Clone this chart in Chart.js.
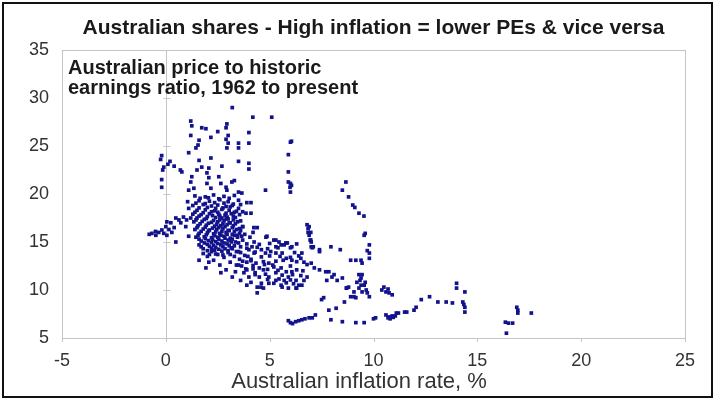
<!DOCTYPE html>
<html>
<head>
<meta charset="utf-8">
<script src="https://cdn.jsdelivr.net/npm/chart.js@4.4.1/dist/chart.umd.min.js"></script>
<style>
  html, body { margin: 0; padding: 0; background: #fff; }
  #wrap { position: relative; width: 715px; height: 400px; }
  #frame { position: absolute; left: 2px; top: 2px; width: 707px; height: 392px; border: 2px solid #111; pointer-events: none; }
</style>
</head>
<body>
<div id="wrap">
  <canvas id="peChart" width="715" height="400"></canvas>
  <div id="frame"></div>
</div>
<script>
// Inflation (%) and price/earnings ratio
const inflation = [
  // around zero inflation
  -0.2, 0.2, -0.1, -0.15, 0.4, 0.77, 0.7, -0.2, -0.2, -0.25, 0.1,
  -0.67, -0.48, -0.34, -0.19, 0, 0.05, 0.24, 0.48, 0.63, 0.72, 0.48, 0.05, 0.29, 0.96, 1.0, -0.8, -0.1, 0.15, -0.5, 0.4, 0.85, 1.1,
  // upper scatter
  3.2, 4.19, 5.1, 1.2, 1.25, 1.73, 1.93, 2.94, 2.9, 2.5, 2.17, 1.2, 1.6, 3.0, 2.9, 3.0, 4.0, 4.0, 3.5, 3.5, 1.55, 1.45, 1.1, 2.94,
  1.6, 2.17, 1.73, 1.5, 1.25, 2.07, 1.98, 2.07, 2.7, 3.5, 4.0, 4.0, 2.55, 2.65, 1.2, 1.35, 1.1, 1.98, 2.17, 2.9, 2.94, 3.3, 3.5, 4.8, 4.1, 4.1,
  3.66, 3.18, 3.9, 3.86, 1.1, 1.05, 1.2,
  // column near 6%
  6.0, 6.05, 5.9, 5.9, 5.9, 6.0, 5.98, 6.0, 6.05,
  // falling line 8.5-10%
  8.67, 8.5, 8.8, 9.0, 9.1, 9.3, 9.54, 9.6, 9.55, 9.8, 9.7, 9.8, 9.8,
  8.9, 9.15, 9.4, 9.45, 9.3, 9.4, 9.45, 9.2, 9.4, 9.55, 9.3, 9.45, 9.65, 9.06, 8.9, 9.06, 9.7, 9.8, 8.8, 8.7, 9.15, 9.6, 9.35,
  10.5, 10.6, 10.75, 10.9, 10.4, 10.7,
  // column near 7%
  6.8, 6.85, 6.9, 6.95, 7.0, 7.05, 6.85, 7.0,
  7.4, 7.95, 8.4, 7.4, 7.85, 8.1, 8.5, 8.7, 7.0, 7.15, 7.4, 7.7, 8.0, 8.25, 7.75, 7.6, 7.5, 8.6,
  // low PE row
  6.0, 6.25, 6.55, 6.9, 7.2, 7.05, 5.9, 6.1, 6.4, 6.7, 7.85, 8.2, 7.95, 8.5, 9.15, 9.55, 10.0, 10.1,
  10.6, 10.75, 10.9, 11.1, 10.7, 10.8, 10.95, 11.05, 11.6, 11.2, 11.95, 12.05, 11.5,
  12.3, 12.7, 13.1, 13.5, 13.8, 14.0, 14.0, 14.4, 14.3, 14.4, 14.4, 14.35,
  16.35, 16.5, 16.7, 16.4, 16.9, 16.95, 16.95, 17.6,
  // band 3.5-7%
  4.4, 4.87, 5.2, 5.45, 5.55, 5.3, 5.85, 6.0, 4.25, 4.15, 4.0, 4.25, 4.6, 4.8, 5.05, 5.6, 5.8, 6.07, 6.55, 6.5, 6.65,
  4.34, 4.5, 4.7, 4.5, 4.6, 4.4, 4.7, 4.96, 5.2, 5.3, 4.96, 5.55, 5.8, 5.9, 5.7, 5.55, 6.07, 6.27, 6.4, 6.3, 6.65, 6.8, 6.55, 4.0, 4.1,
  3.9, 4.4, 4.58, 4.96, 5.3, 5.6, 5.9, 6.27, 3.76, 3.2, 2.65, 2.9, 1.93, 2.07, 1.6,
  3.6, 3.8, 3.7, 3.9, 3.6, 3.8, 3.55, 3.9, 3.65, 4.1, 3.45, 3.5, 4.2, 3.7, 4.05, 3.85, 3.4, 3.3, 3.2, 3.1, 2.8, 2.5, 2.3, 2.6, 3.35, 3.0, 2.2, 1.8, 2.0, 4.3, 3.6, 4.2,
  4.24, 4.82, 5.3, 5.78, 6.07, 6.9, 6.98, 6.98, 7.1,
  4.5, 5.0, 5.7, 6.3,
  3.9, 4.4, 4.9, 5.4,
  3.6, 4.3, 5.3, 6.2,
  3.95, 4.6, 5.0, 5.5, 6.0, 6.4,
  3.7, 4.1, 4.7, 5.3, 5.65, 6.3,
  3.5, 4.2, 4.75, 5.15, 6.0, 6.8,
  3.9, 4.9, 5.4, 6.3, 6.6,
  4.3, 4.8, 5.6, 6.1, 6.5,
  4.9, 5.45, 6.0,
  5.2, 5.8, 6.15,
  // dense core 1.3-3.7%
  1.4, 1.9, 2.3, 2.8, 3.3,
  1.6, 2.1, 2.6, 3.0, 3.5,
  1.3, 1.8, 2.2, 2.5, 2.9, 3.2, 3.6,
  1.5, 1.9, 2.35, 2.7, 3.05, 3.4,
  1.3, 1.7, 2.1, 2.55, 2.85, 3.15, 3.55,
  1.5, 1.95, 2.4, 2.7, 3.0, 3.35,
  1.35, 1.75, 2.2, 2.5, 2.8, 3.1, 3.45,
  1.55, 1.95, 2.35, 2.65, 2.95, 3.25, 3.7,
  1.4, 1.8, 2.1, 2.45, 2.75, 3.05, 3.4,
  1.6, 2.0, 2.3, 2.6, 2.9, 3.2, 3.55,
  1.45, 1.85, 2.2, 2.5, 2.8, 3.1, 3.45,
  1.7, 2.05, 2.4, 2.7, 3.0, 3.35,
  1.6, 2.0, 2.3, 2.65, 2.95, 3.3,
  1.8, 2.2, 2.55, 2.85, 3.15,
  1.65, 2.05, 2.55, 3.05,
  1.45, 1.9, 2.35, 2.8, 3.25,
  1.6, 2.0, 2.4, 2.75, 3.1, 3.5,
  1.4, 1.8, 2.2, 2.5, 2.9, 3.3, 3.7,
  1.6, 2.0, 2.25, 2.6, 2.95, 3.25,
  1.45, 1.85, 2.3, 2.6, 2.9, 3.25, 3.6,
  1.65, 2.05, 2.45, 2.75, 3.05, 3.35,
  1.5, 1.9, 2.25, 2.55, 2.85, 3.2, 3.55,
  1.7, 2.05, 2.4, 2.7, 3.0, 3.3,
  1.55, 1.95, 2.35, 2.65, 2.95, 3.3, 3.65,
  1.6, 1.9, 2.25, 2.55, 2.85, 3.2,
  1.85, 2.2, 2.5, 2.8, 3.15, 3.5,
  1.7, 2.1, 2.4, 2.75, 3.05,
  2.0, 2.35, 2.7, 3.0, 3.4,
  2.1, 2.4, 2.75, 3.1
];

const peRatio = [
  24.0, 23.4, 22.8, 22.5, 22.9, 22.3, 22.5, 21.5, 20.7, 23.6, 23.1,
  15.9, 15.7, 16.0, 16.25, 16.6, 17.1, 17.0, 17.5, 17.3, 17.0, 15.0, 15.7, 16.0, 16.6, 17.3, 15.8, 15.9, 16.3, 16.1, 16.5, 17.6, 15.6,
  29.0, 28.0, 28.0, 27.6, 27.1, 26.9, 26.8, 27.3, 26.9, 26.5, 25.9, 26.1, 25.6, 26.1, 25.7, 25.3, 26.4, 25.3, 25.3, 24.8, 25.1, 24.8, 24.3, 24.8,
  23.5, 23.75, 22.8, 22.5, 21.8, 22.7, 22.2, 21.7, 22.9, 23.4, 23.2, 22.6, 21.8, 21.1, 21.25, 20.6, 20.4, 21.1, 20.6, 20.7, 20.4, 21.4, 20.2, 20.4, 19.1, 18.0,
  20.1, 21.25, 19.1, 18.0, 18.5, 19.2, 17.5,
  25.4, 25.5, 24.1, 22.3, 21.25, 21.1, 20.7, 20.2, 20.9,
  21.25, 20.4, 19.7, 18.85, 18.6, 18.0, 17.7, 15.9, 15.7, 14.7, 14.1, 13.85, 13.3,
  13.1, 13.1, 13.1, 12.8, 11.6, 11.25, 11.6, 10.8, 10.5, 10.5, 10.2, 9.8, 10.0, 9.8, 9.3, 9.3, 9.7, 9.3, 10.3, 10.2, 9.2, 10.8, 11.0,
  10.3, 9.8, 9.7, 9.5, 10.0, 10.1,
  16.8, 16.0, 15.7, 15.2, 14.5, 14.4, 16.4, 15.0,
  14.2, 14.5, 14.2, 14.0, 11.9, 11.6, 11.25, 10.2, 12.8, 12.3, 12.1, 11.9, 11.35, 11.0, 11.0, 9.2, 9.0, 8.75,
  6.6, 6.7, 6.9, 7.1, 7.4, 7.1, 6.8, 6.5, 6.8, 7.0, 7.9, 8.1, 6.9, 6.7, 6.6, 6.6, 7.0, 7.1,
  7.4, 7.2, 7.3, 7.6, 7.1, 7.0, 7.15, 7.3, 7.7, 7.6, 7.9, 8.2, 7.7,
  9.0, 9.3, 8.75, 8.75, 8.65, 10.7, 10.2, 9.8, 8.75, 8.2, 7.7, 8.5,
  6.65, 6.55, 6.55, 5.5, 8.2, 7.9, 7.6, 7.6,
  16.5, 15.6, 15.2, 15.0, 14.7, 14.5, 14.9, 14.4, 15.0, 14.5, 14.2, 13.85, 14.2, 13.85, 14.0, 13.85, 13.3, 13.1, 13.85, 13.3, 12.9,
  12.8, 12.3, 12.1, 11.35, 10.7, 10.3, 10.2, 12.8, 12.4, 11.8, 11.35, 12.3, 11.9, 11.35, 11.0, 10.5, 11.9, 11.0, 10.5, 10.2, 11.0, 11.35, 10.5, 11.35, 10.8,
  10.5, 9.7, 10.3, 10.7, 11.0, 10.3, 10.2, 10.2, 11.8, 11.35, 11.8, 12.1, 12.3, 12.9, 13.1,
  16.2, 15.8, 15.2, 14.8, 14.5, 13.6, 13.2, 12.9, 12.5, 13.2, 15.7, 14.0, 16.0, 16.6, 15.5, 12.2, 12.6, 13.5, 14.3, 12.9, 13.4, 13.7, 13.1, 12.6, 11.9, 13.9, 14.0, 13.8, 13.5, 11.8, 11.0, 12.2,
  16.5, 15.5, 15.2, 14.9, 14.5, 16.6, 16.0, 15.2, 14.5,
  14.75, 14.85, 14.7, 14.8,
  14.35, 14.45, 14.3, 14.4,
  13.9, 13.95, 13.85, 13.9,
  13.5, 13.45, 13.55, 13.5, 13.4, 13.55,
  13.0, 13.05, 12.95, 13.0, 13.1, 12.95,
  12.6, 12.55, 12.65, 12.6, 12.5, 12.65,
  12.1, 12.15, 12.05, 12.1, 12.0,
  11.6, 11.65, 11.55, 11.6, 11.5,
  11.1, 11.15, 11.05,
  10.7, 10.75, 10.65,
  19.8, 19.7, 19.9, 19.75, 19.85,
  19.3, 19.25, 19.4, 19.2, 19.35,
  18.8, 18.9, 18.75, 18.85, 18.7, 18.8, 18.9,
  18.3, 18.35, 18.25, 18.4, 18.3, 18.2,
  17.9, 17.85, 17.95, 17.9, 17.8, 17.95, 17.85,
  17.5, 17.45, 17.55, 17.5, 17.4, 17.55,
  17.1, 17.15, 17.05, 17.1, 17.2, 17.0, 17.1,
  16.7, 16.75, 16.65, 16.7, 16.8, 16.7, 16.6,
  16.3, 16.35, 16.25, 16.3, 16.4, 16.2, 16.3,
  15.9, 15.95, 15.85, 15.9, 16.0, 15.8, 15.9,
  15.5, 15.55, 15.45, 15.5, 15.6, 15.4, 15.5,
  15.1, 15.15, 15.05, 15.1, 15.2, 15.0,
  14.7, 14.75, 14.65, 14.7, 14.8, 14.6,
  14.3, 14.35, 14.25, 14.3, 14.4,
  19.55, 19.6, 19.5, 19.55,
  19.05, 19.0, 19.1, 19.05, 18.95,
  18.55, 18.6, 18.5, 18.55, 18.65, 18.5,
  18.1, 18.05, 18.15, 18.1, 18.0, 18.1, 18.15,
  17.7, 17.65, 17.75, 17.7, 17.6, 17.7,
  17.3, 17.35, 17.25, 17.3, 17.4, 17.3, 17.2,
  16.9, 16.95, 16.85, 16.9, 17.0, 16.9,
  16.5, 16.55, 16.45, 16.5, 16.6, 16.5, 16.4,
  16.1, 16.15, 16.05, 16.1, 16.2, 16.1,
  15.7, 15.75, 15.65, 15.7, 15.8, 15.7, 15.6,
  15.3, 15.35, 15.25, 15.3, 15.4, 15.3,
  14.9, 14.95, 14.85, 14.9, 15.0, 14.9,
  14.5, 14.55, 14.45, 14.5, 14.6,
  14.1, 14.15, 14.05, 14.1, 14.0,
  13.7, 13.75, 13.65, 13.7
];

const xTicks = [-5, 0, 5, 10, 15, 20, 25];
const yTicks = [5, 10, 15, 20, 25, 30, 35];

const points = inflation.map((x, i) => ({ x: x, y: peRatio[i] }));

const fontFamily = "Arial, 'Liberation Sans', sans-serif";

// plot frame, y-axis line at zero with cross ticks, the note and the x title
const decorations = {
  id: "decorations",
  beforeDatasetsDraw(chart) {
    const { ctx, chartArea: a, scales } = chart;
    ctx.save();
    ctx.strokeStyle = "#c4c4c4";
    ctx.lineWidth = 1;
    ctx.strokeRect(a.left + 0.5, a.top + 0.5, a.right - a.left, a.bottom - a.top);
    const x0 = Math.round(scales.x.getPixelForValue(0)) + 0.5;
    ctx.beginPath();
    ctx.moveTo(x0, a.top);
    ctx.lineTo(x0, a.bottom);
    yTicks.forEach((v) => {
      const py = Math.round(scales.y.getPixelForValue(v)) + 0.5;
      ctx.moveTo(x0 - 3, py);
      ctx.lineTo(x0 + 4, py);
    });
    xTicks.forEach((v) => {
      const px = Math.round(scales.x.getPixelForValue(v)) + 0.5;
      ctx.moveTo(px, a.bottom);
      ctx.lineTo(px, a.bottom + 4);
    });
    ctx.stroke();
    ctx.restore();
  },
  afterDraw(chart) {
    const { ctx, chartArea: a } = chart;
    ctx.save();
    ctx.fillStyle = "#1a1a1a";
    ctx.font = "bold 20px " + fontFamily;
    ctx.textBaseline = "middle";
    ctx.fillText("Australian price to historic", a.left + 6, a.top + 18);
    ctx.fillText("earnings ratio, 1962 to present", a.left + 6, a.top + 38);
    ctx.fillStyle = "#333";
    ctx.font = "22px " + fontFamily;
    ctx.textAlign = "center";
    ctx.fillText("Australian inflation rate, %", 359, 382);
    ctx.restore();
  },
};

new Chart(document.getElementById("peChart").getContext("2d"), {
  type: "scatter",
  data: {
    datasets: [
      {
        label: "PE",
        data: points,
        backgroundColor: "#12128c",
        borderColor: "#12128c",
        borderWidth: 0,
        pointStyle: "rect",
        pointRadius: 2.6,
      },
    ],
  },
  options: {
    responsive: false,
    animation: false,
    layout: { padding: { right: 30, left: 0, bottom: 0 } },
    plugins: {
      legend: { display: false },
      tooltip: { enabled: false },
      title: {
        display: true,
        fullSize: false,
        text: "Australian shares - High inflation = lower PEs & vice versa",
        color: "#1a1a1a",
        font: { family: fontFamily, size: 21, weight: "bold" },
        padding: { top: 16, bottom: 8.8 },
      },
    },
    scales: {
      x: {
        type: "linear",
        min: -5,
        max: 25,
        afterFit: (s) => { s.height = 62; },
        afterBuildTicks: (s) => { s.ticks = xTicks.map((v) => ({ value: v })); },
        grid: { display: false },
        border: { display: false },
        ticks: {
          color: "#333",
          padding: 4,
          font: { family: fontFamily, size: 18 },
        },
      },
      y: {
        min: 5,
        max: 35,
        afterFit: (s) => { s.width = 62; },
        afterBuildTicks: (s) => { s.ticks = yTicks.map((v) => ({ value: v })); },
        grid: { display: false },
        border: { display: false },
        ticks: {
          color: "#333",
          padding: 5,
          font: { family: fontFamily, size: 18 },
        },
      },
    },
  },
  plugins: [decorations],
});
</script>
</body>
</html>
